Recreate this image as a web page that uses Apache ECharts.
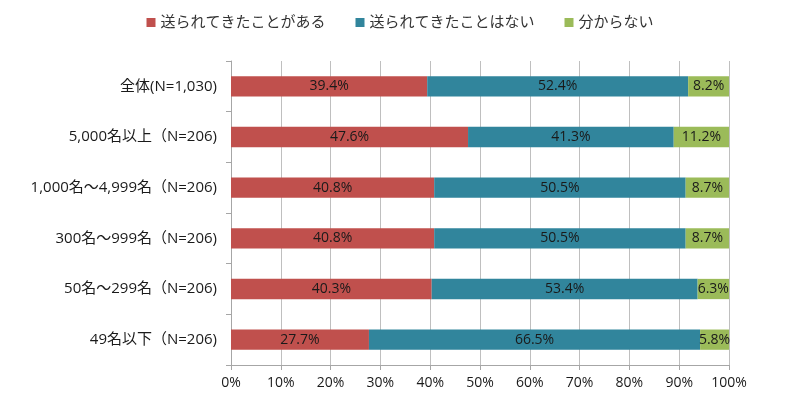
<!DOCTYPE html>
<html><head><meta charset="utf-8">
<script src="https://cdn.jsdelivr.net/npm/echarts@6/dist/echarts.min.js"></script>
<style>html,body{margin:0;padding:0;background:#fff}#c{width:800px;height:408px}</style>
</head><body><div id="c"></div>
<script>
const categories = ['全体(N=1,030)','5,000名以上（N=206)','1,000名～4,999名（N=206)','300名～999名（N=206)','50名～299名（N=206)','49名以下（N=206)'];
const seriesNames = ['送られてきたことがある','送られてきたことはない','分からない'];
const sentYes = [39.4, 47.6, 40.8, 40.8, 40.3, 27.7];
const sentNo = [52.4, 41.3, 50.5, 50.5, 53.4, 66.5];
const unknown = [8.2, 11.2, 8.7, 8.7, 6.3, 5.8];
const xTicks = [0,10,20,30,40,50,60,70,80,90,100];
const colors = ['#C0504D','#31859C','#9BBB59'];
const font = '"Open Sans","Noto Sans CJK JP",sans-serif';
const chart = echarts.init(document.getElementById('c'));
const mk = (name, data, i) => ({
  name, type:'bar', stack:'t', data, barWidth:'40%',
  itemStyle:{color:colors[i]},
  label:{show:true, position:'inside', formatter: p => p.value.toFixed(1)+'%', color:'#1a1a1a', fontSize:14, fontFamily:font},
  emphasis:{disabled:true}
});
chart.setOption({
  animation:false,
  legend:{top:10, left:'center', itemWidth:9, itemHeight:9, itemGap:30, icon:'rect',
    textStyle:{fontSize:15, color:'#333', fontFamily:font}},
  grid:{left:231, right:71, top:61, bottom:43},
  xAxis:{type:'value', min:0, max:100, interval:10,
    axisLabel:{formatter: v => v+'%', fontSize:14, color:'#1a1a1a', fontFamily:font, margin:11},
    splitLine:{show:true, lineStyle:{color:'#BFBFBF'}},
    axisLine:{show:true, lineStyle:{color:'#A6A6A6'}},
    axisTick:{show:true, length:5, lineStyle:{color:'#A6A6A6'}}},
  yAxis:{type:'category', data:categories, inverse:true,
    axisLabel:{fontSize:15, color:'#1a1a1a', fontFamily:font, margin:14},
    axisLine:{show:true, lineStyle:{color:'#A6A6A6'}},
    axisTick:{show:true, length:5, lineStyle:{color:'#A6A6A6'}}},
  series:[mk(seriesNames[0], sentYes, 0), mk(seriesNames[1], sentNo, 1), mk(seriesNames[2], unknown, 2)]
});
</script></body></html>
